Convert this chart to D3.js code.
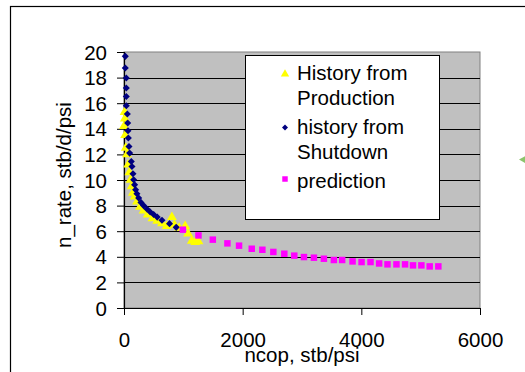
<!DOCTYPE html>
<html>
<head>
<meta charset="utf-8">
<script src="https://cdn.jsdelivr.net/npm/d3@7"></script>
<style>
  html, body { margin: 0; padding: 0; background: #fff; }
  svg { display: block; font-family: "Liberation Sans", Arial, sans-serif; }
</style>
</head>
<body>
<svg id="chart" width="525" height="372"></svg>
<script>
// n_rate vs ncop — history from production, history from shutdown, prediction
const productionNcop = [0, 10, 15, 20, 30, 50, 70, 90, 110, 130, 150, 180, 220, 270, 330, 400, 480, 560, 640, 720, 807, 850, 930, 1031, 1080, 1143, 1200, 1255];
const productionRate = [14.2, 15.3, 14.8, 13.5, 12.5, 12.0, 11.2, 10.6, 10.0, 9.5, 9.0, 8.7, 8.3, 7.9, 7.6, 7.3, 7.0, 6.8, 6.6, 6.4, 7.1, 6.5, 6.25, 6.4, 5.8, 5.25, 5.15, 5.2];

const shutdownNcop = [22, 22, 39, 39, 39, 39, 56, 62, 67, 73, 84, 95, 123, 134, 151, 163, 179, 196, 218, 247, 286, 330, 387, 442, 500, 560, 640, 767, 880];
const shutdownRate = [19.66, 18.75, 17.97, 17.19, 16.53, 15.8, 15.15, 14.45, 13.85, 13.28, 12.62, 12.1, 11.45, 11.06, 10.49, 10.02, 9.63, 9.24, 8.93, 8.59, 8.25, 8.0, 7.73, 7.5, 7.3, 7.1, 6.85, 6.59, 6.3];

const predictionNcop = [992, 1255, 1497, 1743, 1939, 2153, 2332, 2517, 2702, 2870, 3033, 3201, 3369, 3537, 3677, 3852, 4004, 4155, 4300, 4441, 4592, 4737, 4871, 5012, 5152, 5298];
const predictionRate = [6.12, 5.67, 5.34, 5.05, 4.87, 4.63, 4.55, 4.38, 4.24, 4.09, 3.98, 3.93, 3.85, 3.75, 3.75, 3.64, 3.59, 3.59, 3.48, 3.41, 3.41, 3.41, 3.33, 3.33, 3.25, 3.25];

const xTicks = [0, 2000, 4000, 6000];
const yTicks = [0, 2, 4, 6, 8, 10, 12, 14, 16, 18, 20];
const legendLabels = [["History from", "Production"], ["history from", "Shutdown"], ["prediction"]];

const FONT = "20.5px";
const svg = d3.select("#chart");
const plot = { left: 124, right: 480, top: 52, bottom: 308 };

const x = d3.scaleLinear().domain([0, 6000]).range([plot.left, plot.right]);
const y = d3.scaleLinear().domain([0, 20]).range([plot.bottom, plot.top]);

// outer chart frame
svg.append("rect")
  .attr("x", 10.5).attr("y", 6.5).attr("width", 600).attr("height", 600)
  .attr("fill", "none").attr("stroke", "#000").attr("stroke-width", 1.2);

// plot area
svg.append("rect")
  .attr("x", plot.left).attr("y", plot.top)
  .attr("width", plot.right - plot.left).attr("height", plot.bottom - plot.top)
  .attr("fill", "#c0c0c0").attr("stroke", "#808080").attr("stroke-width", 1);

// horizontal gridlines
svg.append("g").selectAll("line")
  .data(yTicks.filter(d => d > 0 && d < 20))
  .join("line")
  .attr("x1", plot.left).attr("x2", plot.right)
  .attr("y1", d => Math.round(y(d)) + 0.5).attr("y2", d => Math.round(y(d)) + 0.5)
  .attr("stroke", "#000").attr("stroke-width", 1);

// axes
const yAxis = svg.append("g")
  .attr("transform", `translate(${plot.left},0)`)
  .call(d3.axisLeft(y).tickValues(yTicks).tickSize(7).tickPadding(10).tickFormat(d3.format("d")));
const xAxis = svg.append("g")
  .attr("transform", `translate(0,${plot.bottom})`)
  .call(d3.axisBottom(x).tickValues(xTicks).tickSize(7).tickFormat(d3.format("d")));

[yAxis, xAxis].forEach(g => {
  g.select(".domain").attr("stroke", "#000").attr("stroke-width", 1.2);
  g.selectAll(".tick line").attr("stroke", "#000");
  g.selectAll("text").attr("fill", "#000").attr("font-size", FONT)
    .attr("font-family", "Liberation Sans, Arial, sans-serif");
});
xAxis.select(".domain").attr("d", `M${plot.left},0.5H${plot.right}`);
xAxis.selectAll(".tick text").attr("dy", null).attr("y", 39);
yAxis.selectAll(".tick text").attr("dy", "0.35em");

// axis titles
svg.append("text")
  .attr("x", 302).attr("y", 362)
  .attr("text-anchor", "middle").attr("font-size", FONT).attr("fill", "#000")
  .text("ncop, stb/psi");
svg.append("text")
  .attr("transform", "translate(71,175) rotate(-90)")
  .attr("text-anchor", "middle").attr("font-size", FONT).attr("fill", "#000")
  .text("n_rate, stb/d/psi");

// marker shapes
const triPath = d3.symbol().type(d3.symbolTriangle).size(42)();
const diaPath = d3.symbol().type(d3.symbolSquare).size(25)();
const sqPath = d3.symbol().type(d3.symbolSquare).size(42)();

const series = [
  { ncop: productionNcop, rate: productionRate, path: triPath, fill: "#ffff00", rot: 0 },
  { ncop: shutdownNcop, rate: shutdownRate, path: diaPath, fill: "#000080", rot: 45 },
  { ncop: predictionNcop, rate: predictionRate, path: sqPath, fill: "#ff00ff", rot: 0 }
];

series.forEach(s => {
  svg.append("g").selectAll("path")
    .data(d3.zip(s.ncop, s.rate))
    .join("path")
    .attr("d", s.path)
    .attr("transform", d => `translate(${x(d[0])},${y(d[1])}) rotate(${s.rot})`)
    .attr("fill", s.fill);
});

// legend
const legend = svg.append("g");
legend.append("rect")
  .attr("x", 245.5).attr("y", 55.5).attr("width", 194).attr("height", 164)
  .attr("fill", "#fff").attr("stroke", "#000").attr("stroke-width", 1);

const legendRows = [
  { markerY: 74, lineY: [80, 105], s: series[0], size: 30 },
  { markerY: 127.5, lineY: [133.5, 158.5], s: series[1], size: 18 },
  { markerY: 179, lineY: [187.5], s: series[2], size: 30 }
];
legendRows.forEach((r, i) => {
  const shape = i === 0 ? d3.symbolTriangle : d3.symbolSquare;
  legend.append("path")
    .attr("d", d3.symbol().type(shape).size(r.size)())
    .attr("transform", `translate(285,${r.markerY}) rotate(${r.s.rot})`)
    .attr("fill", r.s.fill);
  legendLabels[i].forEach((t, j) => {
    legend.append("text")
      .attr("x", 297).attr("y", r.lineY[j])
      .attr("font-size", FONT).attr("fill", "#000")
      .text(t);
  });
});

// partial marker at right edge of the frame
svg.append("path")
  .attr("d", "M519,159.5L527,155L527,164Z")
  .attr("fill", "#8cc46c");
</script>
</body>
</html>
